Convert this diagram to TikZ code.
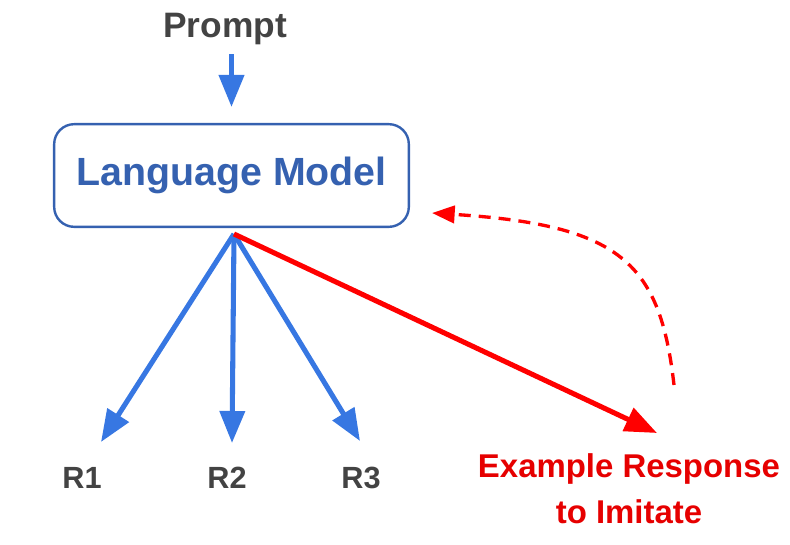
\documentclass[tikz,border=0pt]{standalone}
\usepackage{fontspec}
\setmainfont{Liberation Sans}
\usetikzlibrary{arrows.meta,positioning,calc}
\definecolor{LmBlue}{HTML}{3561B0}
\definecolor{FanBlue}{HTML}{3777E2}
\definecolor{LabelGray}{HTML}{434343}
\definecolor{ImRed}{HTML}{FF0000}
\definecolor{ImText}{HTML}{E60000}

\begin{document}
\begin{tikzpicture}[x=0.75pt,y=-0.75pt,
    fan/.style={draw=FanBlue,line width=3.8pt,-{Triangle[length=24pt,width=18.5pt]}},
    rlabel/.style={anchor=base,text=LabelGray,font=\bfseries\fontsize{23}{27}\selectfont}]
  \useasboundingbox (0,0) rectangle (790,544);
  \node[anchor=base,text=LabelGray,font=\bfseries\fontsize{26.5}{30}\selectfont] (prompt) at (225,37) {Prompt};
  \node[draw=LmBlue,line width=1.8pt,rounded corners=15pt,text=LmBlue,
        minimum width=266pt,minimum height=77pt,
        font=\bfseries\fontsize{29.5}{34}\selectfont] (lm) at (231.5,175.5) {Language Model};
  % fan of responses
  \coordinate (split) at (234,234);
  \coordinate (tip1) at (101,442);
  \coordinate (tip2) at (232,443);
  \coordinate (tip3) at (360,441);
  \coordinate (extip) at (657,433);
  \node[rlabel] (r1) at (82,488) {R1};
  \node[rlabel] (r2) at (227,488) {R2};
  \node[rlabel] (r3) at (361,488) {R3};
  \node[anchor=base,align=center,text=ImText,
        font=\bfseries\fontsize{24.7}{34.5}\selectfont] (example) at (629,523)
        {Example Response\\to Imitate};
  \draw[fan,shorten <=4pt,shorten >=12pt] (prompt.south -| lm.north) -- (lm.north);
  \foreach \t in {tip1,tip2,tip3}
    \draw[fan] (split) -- (\t);
  \draw[draw=ImRed,line width=3.8pt,-{Triangle[length=24pt,width=18.5pt]}] (split) -- (extip);
  % feedback loop
  \coordinate (loopstart) at (674,385);
  \coordinate (loopend) at (432,213);
  \draw[draw=ImRed,line width=2.5pt,dash pattern=on 9pt off 6pt,
        -{Triangle[length=17pt,width=13pt]}]
        (loopstart) .. controls (660,262) and (620,225) .. (loopend);
\end{tikzpicture}
\end{document}
